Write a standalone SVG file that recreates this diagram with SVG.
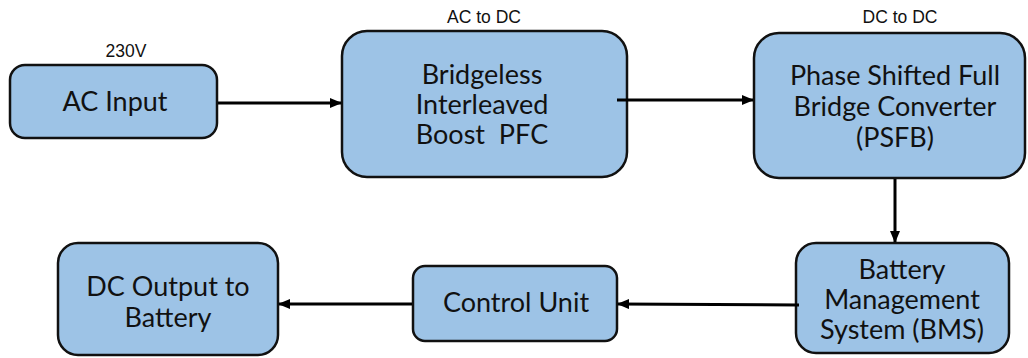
<svg xmlns="http://www.w3.org/2000/svg" width="1028" height="358" viewBox="0 0 1028 358">
<style>
.box{fill:#9dc3e6;stroke:#111;stroke-width:2.5}
.t{font-family:Lato,"Open Sans",sans-serif;font-size:27px;fill:#111;text-anchor:middle}
.s{font-family:"Liberation Sans",Arial,sans-serif;font-size:17.5px;fill:#111;text-anchor:middle}
.c{stroke:#000;stroke-width:3;fill:none;marker-end:url(#ah)}
</style>
<defs>
<marker id="ah" markerUnits="userSpaceOnUse" markerWidth="12" markerHeight="10" refX="11" refY="5" orient="auto">
<path d="M0,0 L12,5 L0,10 z" fill="#000"/>
</marker>
</defs>
<rect width="1028" height="358" fill="#fff"/>
<g id="ac-input">
<text class="s" x="126" y="57">230V</text>
<rect class="box" x="10" y="65" width="207" height="73" rx="15"/>
<text class="t" x="115" y="111">AC Input</text>
</g>
<g id="pfc">
<text class="s" x="484" y="23">AC to DC</text>
<rect class="box" x="342" y="31" width="285" height="146" rx="25"/>
<text class="t" x="482" y="84">Bridgeless</text>
<text class="t" x="482" y="114">Interleaved</text>
<text class="t" x="482" y="144" xml:space="preserve">Boost  PFC</text>
</g>
<g id="psfb">
<text class="s" x="900" y="23">DC to DC</text>
<rect class="box" x="754" y="33" width="271" height="145" rx="25"/>
<text class="t" x="895" y="85">Phase Shifted Full</text>
<text class="t" x="895" y="116">Bridge Converter</text>
<text class="t" x="895" y="147">(PSFB)</text>
</g>
<g id="bms">
<rect class="box" x="796" y="243" width="213" height="110" rx="20"/>
<text class="t" x="902" y="279">Battery</text>
<text class="t" x="902" y="309">Management</text>
<text class="t" x="902" y="339">System (BMS)</text>
</g>
<g id="control-unit">
<rect class="box" x="413" y="266" width="204" height="75" rx="12"/>
<text class="t" x="516" y="312">Control Unit</text>
</g>
<g id="dc-output">
<rect class="box" x="58" y="243" width="220" height="112" rx="20"/>
<text class="t" x="168" y="296">DC Output to</text>
<text class="t" x="168" y="327">Battery</text>
</g>
<g id="connectors">
<line class="c" x1="218" y1="103" x2="341" y2="103"/>
<line class="c" x1="617" y1="100" x2="753" y2="100"/>
<line class="c" x1="895" y1="179" x2="895" y2="242"/>
<line class="c" x1="799" y1="305" x2="618" y2="304"/>
<line class="c" x1="412" y1="304" x2="279" y2="304"/>
</g>
</svg>
